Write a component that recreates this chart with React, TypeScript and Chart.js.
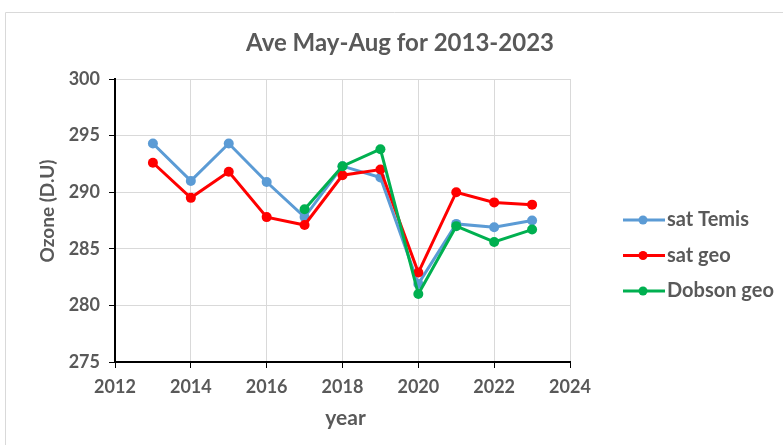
import React, { useEffect, useRef } from "react";
import { Chart, registerables } from "chart.js";

Chart.register(...registerables);

const years = [2013, 2014, 2015, 2016, 2017, 2018, 2019, 2020, 2021, 2022, 2023];
const satTemis = [294.3, 291.0, 294.3, 290.9, 287.8, 292.3, 291.3, 281.9, 287.2, 286.9, 287.5];
const satGeo = [292.6, 289.5, 291.8, 287.8, 287.1, 291.5, 292.0, 282.9, 290.0, 289.1, 288.9];
const dobsonGeo = [null, null, null, null, 288.5, 292.3, 293.8, 281.0, 287.0, 285.6, 286.7];
const seriesNames = ["sat Temis", "sat geo", "Dobson geo"];
const seriesColors = ["#5B9BD5", "#FF0000", "#00B050"];
const chartTitle = "Ave May-Aug for 2013-2023";
const xTitle = "year";
const yTitle = "Ozone (D.U)";

const FONT = "Lato, 'Open Sans', sans-serif";
const TEXT = "#595959";

const framePlugin = {
  id: "frame",
  beforeDraw(chart: any) {
    const ctx = chart.ctx;
    ctx.save();
    ctx.strokeStyle = "#D9D9D9";
    ctx.lineWidth = 1;
    ctx.beginPath();
    ctx.moveTo(5.5, 460);
    ctx.lineTo(5.5, 12.5);
    ctx.lineTo(800, 12.5);
    ctx.stroke();
    ctx.restore();
  },
};

const textPlugin = {
  id: "texts",
  afterDraw(chart: any) {
    const ctx = chart.ctx;
    const area = chart.chartArea;
    ctx.save();
    ctx.fillStyle = TEXT;
    ctx.textAlign = "center";
    ctx.textBaseline = "middle";
    ctx.font = `bold 24px ${FONT}`;
    ctx.fillText(chartTitle, 400, 43);
    ctx.font = `bold 21px ${FONT}`;
    ctx.fillText(xTitle, (area.left + area.right) / 2 + 3, 418);
    ctx.save();
    ctx.translate(48, 211);
    ctx.rotate(-Math.PI / 2);
    ctx.font = `bold 19px ${FONT}`;
    ctx.fillText(yTitle, 0, 0);
    ctx.restore();

    const x0 = 623;
    const y0 = 220;
    const gap = 35.5;
    chart.data.datasets.forEach((ds: any, i: number) => {
      const y = y0 + i * gap;
      ctx.strokeStyle = ds.borderColor;
      ctx.lineWidth = 3;
      ctx.beginPath();
      ctx.moveTo(x0, y);
      ctx.lineTo(x0 + 42, y);
      ctx.stroke();
      ctx.fillStyle = ds.borderColor;
      ctx.beginPath();
      ctx.arc(x0 + 20, y, 4.5, 0, Math.PI * 2);
      ctx.fill();
      ctx.fillStyle = TEXT;
      ctx.font = `bold 20px ${FONT}`;
      ctx.textBaseline = "middle";
      ctx.textAlign = "left";
      ctx.fillText(ds.label, x0 + 44, y);
    });
    ctx.restore();
  },
};

export default function App() {
  const ref = useRef<HTMLCanvasElement | null>(null);
  useEffect(() => {
    if (!ref.current) return;
    const mk = (data: (number | null)[], i: number, order: number) => ({
      label: seriesNames[i],
      data: years.map((x, k) => ({ x, y: data[k] })),
      borderColor: seriesColors[i],
      backgroundColor: seriesColors[i],
      pointBackgroundColor: seriesColors[i],
      pointBorderColor: seriesColors[i],
      borderWidth: 3,
      pointRadius: 5,
      pointBorderWidth: 0,
      spanGaps: false,
      order,
    });
    const chart = new Chart(ref.current, {
      type: "line",
      data: {
        datasets: [mk(satTemis, 0, 3), mk(satGeo, 1, 2), mk(dobsonGeo, 2, 1)] as any,
      },
      plugins: [framePlugin, textPlugin],
      options: {
        animation: false,
        responsive: false,
        devicePixelRatio: 1,
        layout: { padding: { left: 0, right: 213, top: 79, bottom: 0 } },
        plugins: {
          legend: { display: false },
          tooltip: { enabled: false },
          title: { display: false },
        },
        scales: {
          x: {
            type: "linear",
            min: 2012,
            max: 2024,
            ticks: {
              stepSize: 2,
              color: TEXT,
              font: { family: FONT, size: 18, weight: "bold" },
              padding: 8,
              maxRotation: 0,
              callback: (v: any) => String(v),
            },
            grid: { color: "#D9D9D9", tickColor: "#000", tickLength: 6, lineWidth: 1 },
            border: { color: "#000", width: 2 },
            afterFit: (s: any) => {
              s.height = 83;
            },
          },
          y: {
            min: 275,
            max: 300,
            ticks: {
              stepSize: 5,
              color: TEXT,
              font: { family: FONT, size: 18, weight: "bold" },
              padding: 9,
            },
            grid: { color: "#D9D9D9", tickColor: "#000", tickLength: 6, lineWidth: 1 },
            border: { color: "#000", width: 2 },
            afterFit: (s: any) => {
              s.width = 115;
            },
          },
        },
      } as any,
    });
    return () => chart.destroy();
  }, []);
  return (
    <div style={{ position: "absolute", left: 0, top: 0, width: 783, height: 445, background: "#fff" }}>
      <canvas ref={ref} width={783} height={445} style={{ width: 783, height: 445, display: "block" }} />
    </div>
  );
}
